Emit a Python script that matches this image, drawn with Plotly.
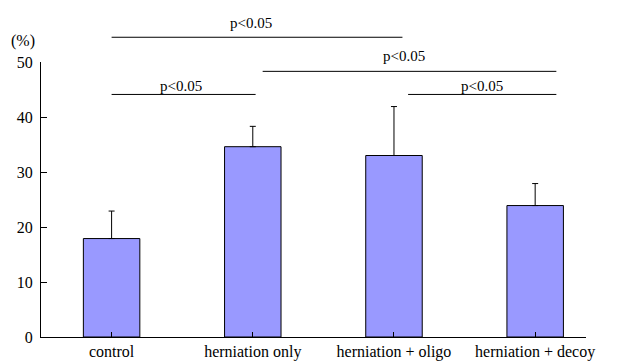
import plotly.graph_objects as go

categories = ["control", "herniation only", "herniation + oligo", "herniation + decoy"]
values = [17.9, 34.6, 33.0, 23.9]
err_plus = [5.0, 3.7, 8.9, 4.0]

# significance brackets: (x start, x end, y of line, y of label, label)
sig_x0 = [0.0, 1.07, 0.0, 2.1]
sig_x1 = [2.06, 3.15, 1.02, 3.15]
sig_y = [54.5, 48.3, 44.1, 44.1]
sig_text_x = [0.99, 2.07, 0.49, 2.62]
sig_text_y = [57.1, 51.0, 45.6, 45.6]
sig_labels = ["p<0.05", "p<0.05", "p<0.05", "p<0.05"]

y_max = 50
font = "Liberation Serif"

fig = go.Figure()
fig.add_trace(go.Bar(
    x=list(range(len(categories))), y=values, width=0.4,
    marker=dict(color="#9999ff", line=dict(color="black", width=1)),
    error_y=dict(type="data", array=err_plus, arrayminus=[0] * len(values),
                 symmetric=False, color="black", thickness=1, width=3),
))

for x0, x1, y in zip(sig_x0, sig_x1, sig_y):
    fig.add_shape(type="line", xref="x", yref="paper", x0=x0, x1=x1,
                  y0=y / y_max, y1=y / y_max, line=dict(color="black", width=1))
for tx, ty, t in zip(sig_text_x, sig_text_y, sig_labels):
    fig.add_annotation(x=tx, y=ty / y_max, xref="x", yref="paper", text=t,
                       showarrow=False, font=dict(size=15, color="black", family=font),
                       xanchor="center", yanchor="middle")

fig.add_annotation(x=0, y=1, xref="paper", yref="paper", text="(%)", showarrow=False,
                   xanchor="right", yanchor="bottom", xshift=-4, yshift=10,
                   font=dict(size=16, color="black", family=font))

fig.update_layout(
    width=628, height=363,
    margin=dict(l=41, r=42, t=62, b=26),
    plot_bgcolor="white", paper_bgcolor="white",
    showlegend=False,
    font=dict(family=font, size=16, color="black"),
)
fig.update_xaxes(
    range=[-0.5, 3.36], tickmode="array", tickvals=list(range(len(categories))),
    ticktext=categories, tickson="boundaries", ticks="inside", ticklen=5,
    tickcolor="black", showline=True, linecolor="black", linewidth=1,
    showgrid=False, zeroline=False, tickfont=dict(size=16, family=font),
    automargin=False,
)
fig.update_yaxes(
    range=[0, y_max], tickvals=[0, 10, 20, 30, 40, 50], ticks="inside", ticklen=6,
    tickcolor="black", showline=True, linecolor="black", linewidth=1,
    showgrid=False, zeroline=False, ticklabelstandoff=4,
    tickfont=dict(size=16, family=font), automargin=False,
)

fig.write_html("out.html", config={"displayModeBar": False},
               post_script="document.body.style.margin='0px';")
